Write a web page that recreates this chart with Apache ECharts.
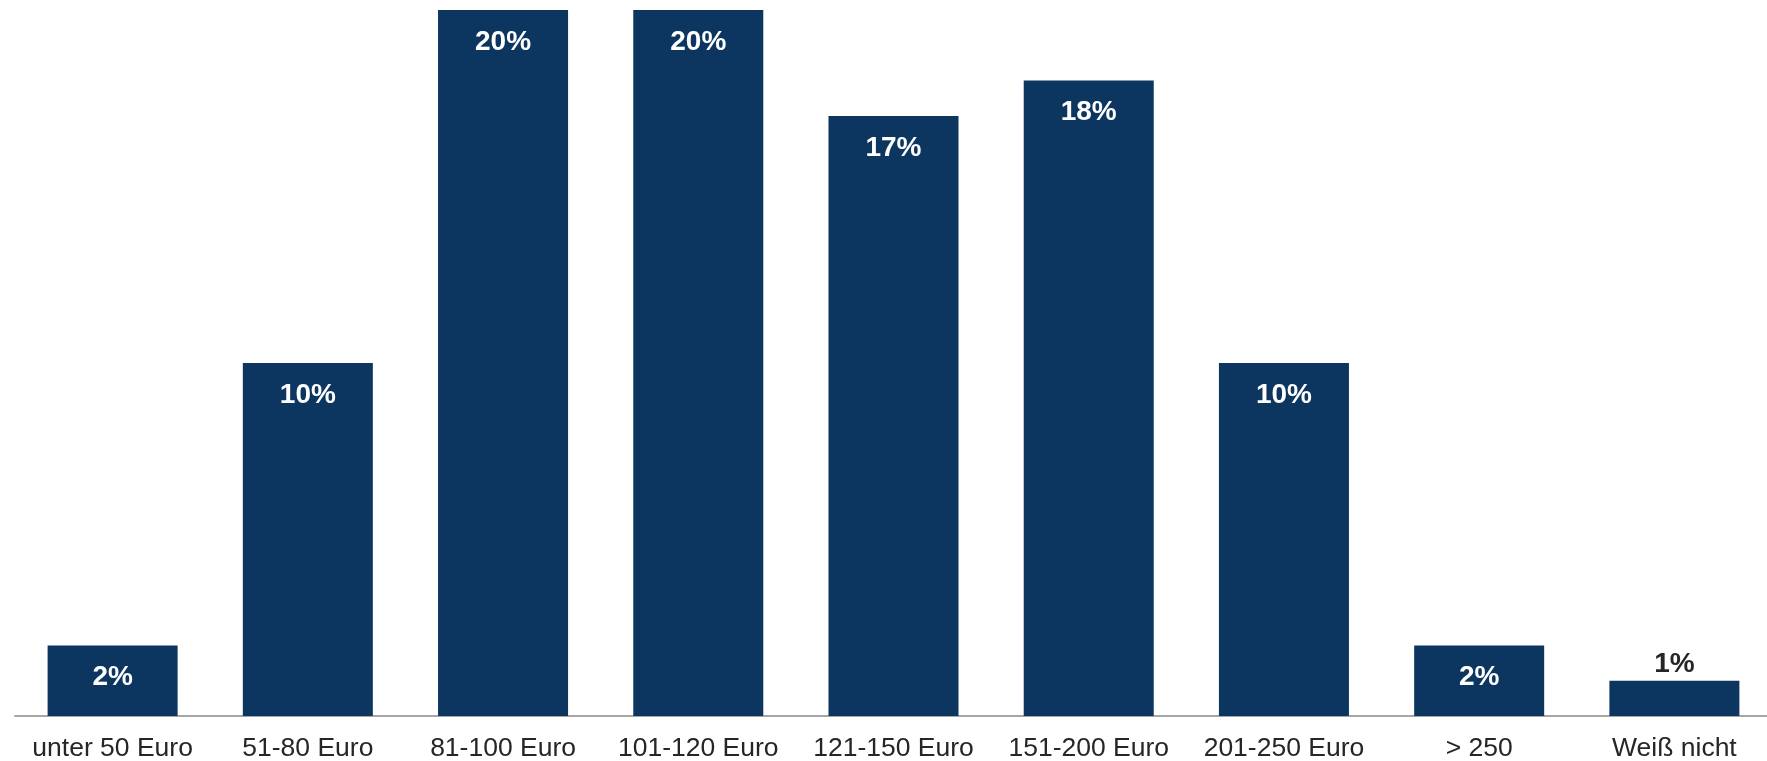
<!DOCTYPE html>
<html>
<head>
<meta charset="utf-8">
<script src="https://cdn.jsdelivr.net/npm/echarts@6/dist/echarts.min.js"></script>
<style>
html,body{margin:0;padding:0;background:#fff;}
#chart{width:1767px;height:761px;}
</style>
</head>
<body>
<div id="chart"></div>
<script>
const categories = ['unter 50 Euro', '51-80 Euro', '81-100 Euro', '101-120 Euro', '121-150 Euro', '151-200 Euro', '201-250 Euro', '> 250', 'Weiß nicht'];
const values = [2, 10, 20, 20, 17, 18, 10, 2, 1];
const outsideLabelThreshold = 1.5;

const chart = echarts.init(document.getElementById('chart'));
const FONT = '"Liberation Sans", Arial, sans-serif';

chart.setOption({
  animation: false,
  backgroundColor: '#ffffff',
  grid: { left: 15, right: -5, top: 10, bottom: 45, containLabel: false, outerBoundsMode: 'none' },
  xAxis: {
    type: 'category',
    data: categories,
    axisLine: { show: true, lineStyle: { color: '#a6a6a6', width: 2 } },
    axisTick: { show: false },
    axisLabel: { color: '#262626', fontSize: 26.5, fontFamily: FONT, margin: 19, interval: 0 }
  },
  yAxis: {
    type: 'value',
    min: 0,
    max: 20,
    show: false,
    splitLine: { show: false }
  },
  series: [{
    type: 'bar',
    data: values.map(v => ({
      value: v,
      label: v > outsideLabelThreshold
        ? { position: 'insideTop', distance: 18, color: '#ffffff' }
        : { position: 'top', distance: 2, color: '#262626' }
    })),
    barWidth: '66.6%',
    itemStyle: { color: '#0c3660' },
    label: {
      show: true,
      fontSize: 28,
      fontWeight: 'bold',
      fontFamily: FONT,
      formatter: p => p.value + '%'
    }
  }]
});
</script>
</body>
</html>
